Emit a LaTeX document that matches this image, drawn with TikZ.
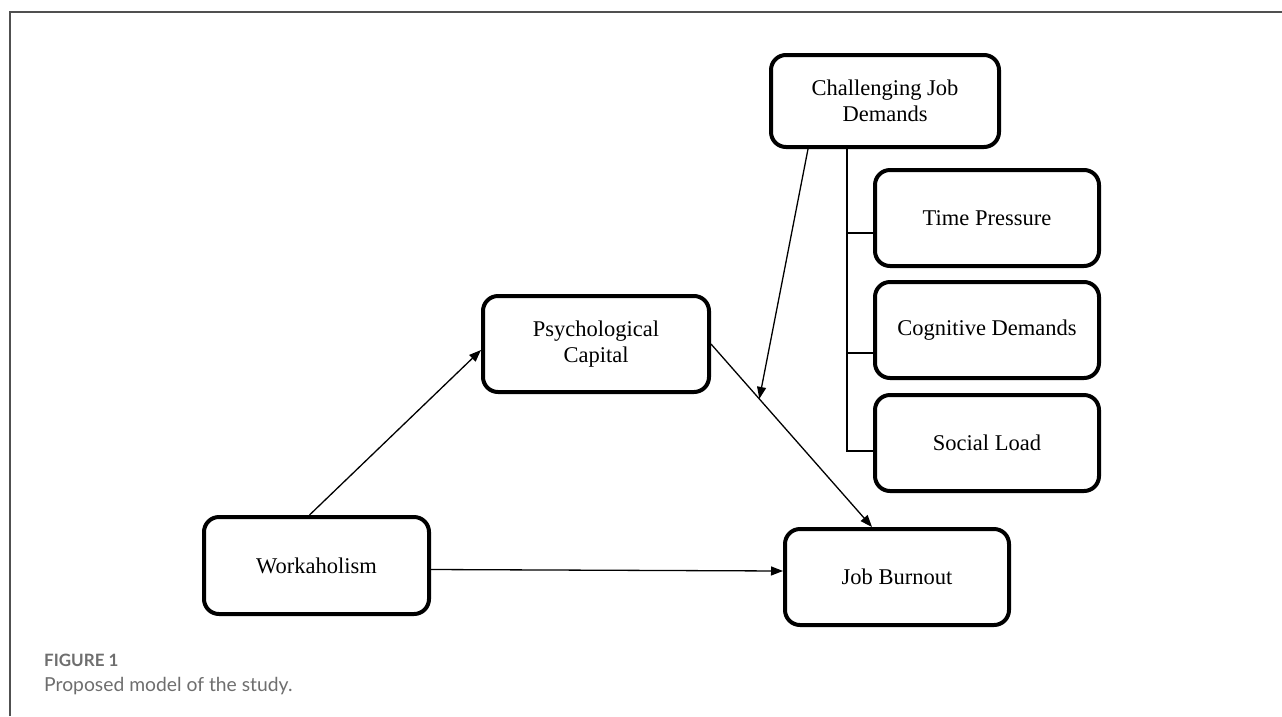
\documentclass[tikz,border=0pt]{standalone}
\usepackage{fontspec}
\setmainfont{Liberation Serif}
\newfontfamily\capfont{Lato}
\usetikzlibrary{arrows.meta,calc}
\definecolor{framegray}{RGB}{80,80,80}
\definecolor{capgray}{RGB}{110,110,110}
\begin{document}
\begin{tikzpicture}[x=1pt,y=-1pt,
  box/.style={draw,line width=4pt,rounded corners=15pt,minimum width=226pt,minimum height=96pt,inner sep=0pt,align=center,font=\fontsize{22.5}{26}\selectfont},
  link/.style={line width=1.3pt},
  arr/.style={line width=1.3pt,-{Triangle[length=12pt,width=9pt]}},
  frame/.style={draw=framegray,line width=1.6pt}]
\useasboundingbox (0,0) rectangle (1282,716);
\draw[frame] (10,716) -- (10,12) -- (1282,12);
% nodes
\node[box,minimum width=225pt,minimum height=97pt] (W) at (316.5,565.5) {Workaholism};
\node[box,minimum width=224pt] (JB) at (897,577) {Job Burnout};
\node[box] (PC) at (596,344) {Psychological\\Capital};
\node[box,minimum width=228pt,minimum height=92pt] (CJD) at (885,101) {Challenging Job\\Demands};
\node[box,minimum width=224pt] (TP) at (987,218) {Time Pressure};
\node[box,minimum width=224pt] (CD) at (987,330) {Cognitive Demands};
\node[box,minimum width=224pt] (SL) at (987,443) {Social Load};
% bracket
\coordinate (b0) at ($(CJD.south)+(-38,0)$);
\coordinate (tpb) at ($(TP.west)+(0,15)$);
\coordinate (cdb) at ($(CD.west)+(0,23)$);
\coordinate (slb) at ($(SL.west)+(0,8)$);
\draw[link] (b0) |- (slb);
\draw[link] (b0 |- tpb) -- (tpb);
\draw[link] (b0 |- cdb) -- (cdb);
% arrows
\draw[arr] ($(W.north)+(-7,0)$) -- ($(PC.west)+(0,6)$);
\draw[arr] ($(W.east)+(0,4)$) -- ($(JB.west)+(0,-6)$);
\draw[arr] (PC.east) -- ($(JB.north)+(-25,0)$) coordinate[pos=0.3] (m);
\draw[arr] ($(CJD.south)+(-77,0)$) -- (m);
% caption
\node[anchor=base west,inner sep=0pt,text=capgray,font=\capfont\bfseries\fontsize{17}{20}\selectfont] (fig) at (44,666) {FIGURE 1};
\node[anchor=base west,inner sep=0pt,text=capgray,font=\capfont\fontsize{19.3}{23}\selectfont] (cap) at (44,691) {Proposed model of the study.};
\end{tikzpicture}
\end{document}
